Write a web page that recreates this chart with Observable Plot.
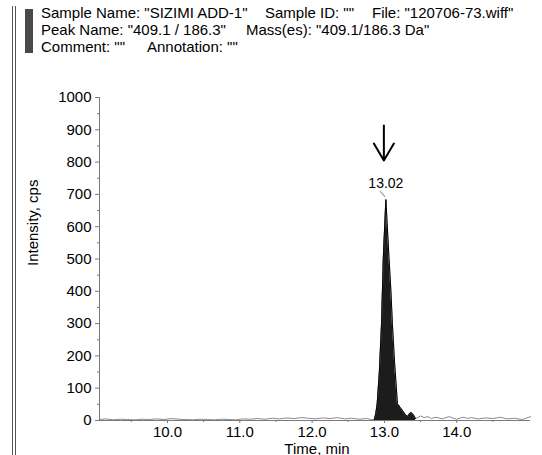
<!DOCTYPE html>
<html>
<head>
<meta charset="utf-8">
<script src="https://cdn.jsdelivr.net/npm/d3@7"></script>
<script src="https://cdn.jsdelivr.net/npm/@observablehq/plot@0.6"></script>
<style>
  html, body { margin: 0; padding: 0; background: #fff; }
  #wrap { position: relative; width: 542px; height: 455px; overflow: hidden; font-family: "Liberation Sans", Arial, sans-serif; }
  .hd { position: absolute; font-size: 15px; color: #000; white-space: pre; line-height: 16px; }
  .vline { position: absolute; top: 6px; bottom: 0; width: 1px; background: #555; }
  #swatch { position: absolute; left: 25px; top: 9px; width: 8px; height: 44px;
    background-color: #222;
    background-image: radial-gradient(#777 0.6px, transparent 0.8px);
    background-size: 2px 2px; }
  #chart { position: absolute; left: 0; top: 0; }
</style>
</head>
<body>
<div id="wrap">
  <div class="vline" style="left:12px"></div>
  <div class="vline" style="left:15px"></div>
  <div id="swatch"></div>
  <div class="hd" style="left:41px; top:5px">Sample Name: "SIZIMI ADD-1"</div>
  <div class="hd" style="left:265px; top:5px">Sample ID: ""</div>
  <div class="hd" style="left:372px; top:5px">File: "120706-73.wiff"</div>
  <div class="hd" style="left:41px; top:22px">Peak Name: "409.1 / 186.3"</div>
  <div class="hd" style="left:246px; top:22px">Mass(es): "409.1/186.3 Da"</div>
  <div class="hd" style="left:41px; top:39px">Comment: ""</div>
  <div class="hd" style="left:147px; top:39px">Annotation: ""</div>
  <div id="chart"></div>
</div>
<script>
// ---- data ----
const xDomain = [9.06, 15.02];
const yDomain = [0, 1000];
const xMajorTicks = [10, 11, 12, 13, 14];
const xMinorTicks = [9.5, 10.5, 11.5, 12.5, 13.5, 14.5];
const yMajorTicks = [0, 100, 200, 300, 400, 500, 600, 700, 800, 900, 1000];
const yMinorTicks = [50, 150, 250, 350, 450, 550, 650, 750, 850, 950];

// retention time (min) and intensity (cps)
const times = [
  9.06, 9.15, 9.25, 9.35, 9.45, 9.55, 9.65, 9.75, 9.85, 9.95,
  10.05, 10.15, 10.25, 10.35, 10.45, 10.55, 10.65, 10.75, 10.85, 10.95,
  11.05, 11.15, 11.25, 11.35, 11.45, 11.55, 11.65, 11.75, 11.85, 11.95,
  12.05, 12.15, 12.25, 12.35, 12.45, 12.55, 12.65, 12.75, 12.82,
  12.86, 12.88, 12.90, 12.93, 12.96, 12.985, 13.02, 13.063, 13.09, 13.11,
  13.14, 13.18, 13.22, 13.25, 13.29, 13.32, 13.35, 13.37, 13.40, 13.43,
  13.45, 13.50, 13.55, 13.60, 13.65, 13.70, 13.75, 13.80, 13.85, 13.90,
  13.95, 14.00, 14.05, 14.10, 14.15, 14.20, 14.30, 14.40, 14.50, 14.60,
  14.70, 14.80, 14.90, 14.95, 15.02
];
const intensity = [
  3, 5, 2, 4, 3, 2, 4, 3, 5, 3,
  6, 4, 3, 2, 4, 3, 2, 4, 3, 2,
  5, 4, 6, 4, 7, 5, 8, 6, 9, 7,
  5, 8, 6, 9, 5, 7, 4, 6, 3,
  3, 20, 52, 150, 300, 505, 684, 505, 400, 300,
  180, 52, 40, 31, 18, 12, 22, 25, 18, 6,
  8, 14, 9, 12, 6, 10, 8, 5, 9, 12,
  7, 4, 8, 10, 6, 9, 5, 8, 6, 10,
  5, 7, 3, 6, 12
];
const peakStart = 12.86, peakEnd = 13.43;
const apexTime = 13.02, apexIntensity = 684;
const apexLabel = "13.02";
const xLabel = "Time, min";
const yLabel = "Intensity, cps";

const data = times.map((t, i) => ({t, v: intensity[i]}));
const peak = data.filter(d => d.t >= peakStart && d.t <= peakEnd);
const apex = [{t: apexTime, v: apexIntensity}];

const arrowShape = {
  draw(ctx, l) {
    ctx.moveTo(0, 0); ctx.lineTo(0, -l);
    ctx.moveTo(-10, -l + 17); ctx.lineTo(0, -l); ctx.lineTo(10, -l + 17);
  }
};
const lineShape = { draw(ctx, l) { ctx.moveTo(0, 0); ctx.lineTo(0, -l); } };

const axisColor = "#7a7a7a";
const chart = Plot.plot({
  width: 542, height: 455,
  marginLeft: 99, marginRight: 12, marginTop: 97, marginBottom: 35,
  x: {domain: xDomain},
  y: {domain: yDomain},
  style: {fontFamily: "'Liberation Sans', Arial, sans-serif", fontSize: "15px", background: "transparent", color: "#000", overflow: "visible"},
  marks: [
    Plot.areaY(peak, {x: "t", y: "v", fill: "#1c1c1c"}),
    Plot.lineY(data, {x: "t", y: "v", stroke: "#8a8a8a", strokeWidth: 1}),
    Plot.lineY(peak, {x: "t", y: "v", stroke: "#000", strokeWidth: 1}),
    Plot.ruleY([yDomain[0]], {stroke: axisColor}),
    Plot.ruleX([xDomain[0]], {stroke: axisColor}),
    Plot.axisX({ticks: xMajorTicks, tickFormat: d => d.toFixed(1), tickSize: 3, tickPadding: 3, stroke: axisColor, fill: "#000", label: null, fontSize: 15}),
    Plot.axisX({ticks: xMinorTicks, tickSize: 2, text: null, stroke: axisColor, label: null}),
    Plot.axisY({ticks: yMajorTicks, tickFormat: d => String(d), tickSize: 4, tickPadding: 4, stroke: axisColor, fill: "#000", label: null, fontSize: 15}),
    Plot.axisY({ticks: yMinorTicks, tickSize: 2, text: null, stroke: axisColor, label: null}),
    Plot.text(apex, {x: "t", y: "v", text: () => apexLabel, dy: -16, fontSize: 14, fill: "#000"}),
    Plot.vector(apex, {x: "t", y: "v", length: 7, rotate: 138, anchor: "end", dx: -1, dy: -3, shape: lineShape, stroke: "#999", strokeWidth: 1}),
    Plot.vector(apex, {x: "t", y: "v", length: 35, rotate: 180, anchor: "end", dx: -2, dy: -39, shape: arrowShape, stroke: "#000", strokeWidth: 2}),
    Plot.text([0], {frameAnchor: "left", dx: -66, dy: 7, rotate: -90, text: () => yLabel, fontSize: 15, fill: "#000"}),
    Plot.text([0], {frameAnchor: "bottom", dx: 2, dy: 33, text: () => xLabel, fontSize: 15, fill: "#000"})
  ]
});
document.getElementById("chart").appendChild(chart);
</script>
</body>
</html>
